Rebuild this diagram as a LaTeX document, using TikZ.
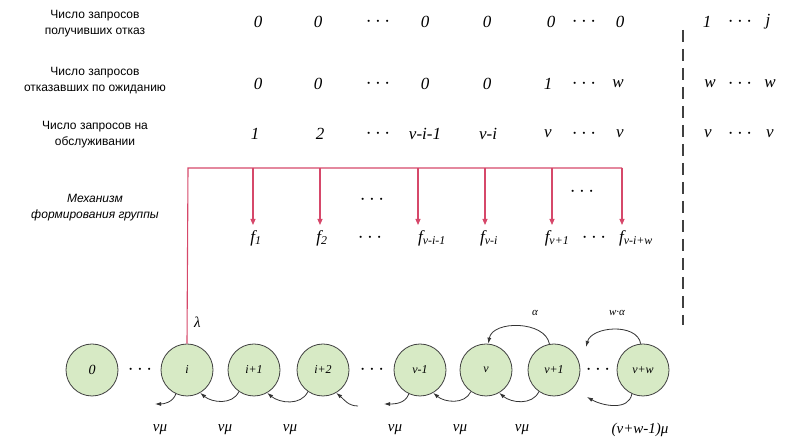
\documentclass[tikz,border=0pt]{standalone}
\usepackage{fontspec}
\setmainfont{Liberation Serif}
\setsansfont{Liberation Sans}
\usetikzlibrary{arrows.meta}
\definecolor{feedred}{HTML}{D6486A}
\definecolor{stategreen}{HTML}{D7EAC5}
\newcommand{\tdots}{{\fontsize{20}{20}\selectfont$\cdots$}}

\begin{document}
\begin{tikzpicture}[x=1pt,y=1pt,
  rowlabel/.style={font=\sffamily\fontsize{12}{16}\selectfont,align=center},
  val/.style={font=\itshape\fontsize{17}{17}\selectfont,inner sep=1pt},
  state/.style={circle,draw=black!75,thick,fill=stategreen,minimum size=52pt,
                inner sep=0pt,font=\itshape\fontsize{12}{12}\selectfont},
  feed/.style={draw=feedred,line width=1.1pt},
  feedarrow/.style={feed,-{Triangle[length=6pt,width=5pt]}},
  rate/.style={-{Latex[length=6pt,width=4pt]},black!80,thick},
  ratelabel/.style={font=\itshape\fontsize{15}{15}\selectfont}
]
\useasboundingbox (0,0) rectangle (792,446);

% row labels
\node[rowlabel] (lrej) at (95,422) {Число запросов\\получивших отказ};
\node[rowlabel] (lwait) at (95,365) {Число запросов\\отказавших по ожиданию};
\node[rowlabel] (lserv) at (95,311) {Число запросов на\\обслуживании};
\node[rowlabel,font=\sffamily\itshape\fontsize{12}{16}\selectfont] (lmech) at (95,238)
  {Механизм\\формирования группы};

% number of rejected requests
\foreach \x/\t [count=\k] in {258/0,318/0,425/0,487/0,551/0,620/0,707/1,768/j}
  \node[val] (rej\k) at (\x,424) {\t};
\foreach \x [count=\k] in {378,584,740}
  \node (rejd\k) at (\x,424) {\tdots};

% number of reneged requests
\foreach \x/\t [count=\k] in {258/0,318/0,425/0,487/0,548/1,618/w,710/w,770/w}
  \node[val] (ren\k) at (\x,362) {\t};
\foreach \x [count=\k] in {378,584,740}
  \node (rend\k) at (\x,362) {\tdots};

% number of requests in service
\foreach \x/\t [count=\k] in {255/1,320/2,425/v-i-1,488/v-i,548/v,620/v,708/v,770/v}
  \node[val] (srv\k) at (\x,312) {\t};
\foreach \x [count=\k] in {378,584,740}
  \node (srvd\k) at (\x,312) {\tdots};

\draw[black!75,line width=1.5pt,dash pattern=on 12pt off 7pt] (683,416) -- (683,121);

% group forming mechanism
\node[val] (f1) at (256,208) {f\textsubscript{1}};
\node[val] (f2) at (322,208) {f\textsubscript{2}};
\node (fd1) at (370,208) {\tdots};
\node[val] (f3) at (432,208) {f\textsubscript{v-i-1}};
\node[val] (f4) at (489,208) {f\textsubscript{v-i}};
\node[val] (f5) at (557,208) {f\textsubscript{v+1}};
\node (fd2) at (594,208) {\tdots};
\node[val] (f6) at (636,208) {f\textsubscript{v-i+w}};
\node (fd3) at (372,246) {\tdots};
\node (fd4) at (582,254) {\tdots};

% states
\node[state,font=\itshape\fontsize{14}{14}\selectfont] (s0) at (92,76) {0};
\node (sd1) at (140,76) {\tdots};
\node[state] (si) at (187,76) {i};
\node[state] (sip1) at (254,76) {i+1};
\node[state] (sip2) at (323,76) {i+2};
\node (sd2) at (372,76) {\tdots};
\node[state] (svm1) at (420,76) {v-1};
\node[state] (sv) at (486,76) {v};
\node[state] (svp1) at (554,76) {v+1};
\node (sd3) at (598,76) {\tdots};
\node[state] (svw) at (643,76) {v+w};

% arrivals feed the group forming mechanism
\coordinate (bus) at (188,278);
\draw[feed] (si.north) -- node[pos=0.12,right=3pt,font=\itshape\fontsize{15}{15}\selectfont,text=black]{λ} (bus) -- (622,278);
\draw[feedarrow] (253,278) -- (253,221);
\draw[feedarrow] (320,278) -- (320,221);
\draw[feedarrow] (418,278) -- (418,221);
\draw[feedarrow] (485,278) -- (485,221);
\draw[feedarrow] (552,278) -- (552,221);
\draw[feedarrow] (622,278) -- (622,221);

% service completions
\coordinate (lfree1) at (155,42);
\coordinate (rfree1) at (358,40);
\coordinate (lfree2) at (384,42);
\coordinate (lfree3) at (587,49);
\draw[rate] (si.245) to[out=250,in=0] (lfree1);
\draw[rate] (sip1.235) to[out=245,in=-40] (si.-60);
\draw[rate] (sip2.235) to[out=245,in=-40] (sip1.-60);
\draw[rate] (rfree1) to[out=180,in=-40] (sip2.-60);
\draw[rate] (svm1.245) to[out=250,in=0] (lfree2);
\draw[rate] (sv.235) to[out=245,in=-40] (svm1.-60);
\draw[rate] (svp1.235) to[out=245,in=-40] (sv.-60);
\draw[rate] (svw.245) to[out=260,in=-30] (lfree3);

% reneging
\coordinate (tfree) at (586,99);
\draw[rate] (svp1.100) to[out=100,in=80] (sv.85);
\draw[rate] (svw.95) to[out=100,in=75] (tfree);
\node[font=\itshape\fontsize{11}{11}\selectfont] (alpha1) at (535,133) {α};
\node[font=\itshape\fontsize{11}{11}\selectfont] (alpha2) at (617,133) {w·α};

% rates
\foreach \x [count=\k] in {160,225,290,395,460,522}
  \node[ratelabel] (mu\k) at (\x,16) {vμ};
\node[ratelabel] (mu7) at (640,16) {(v+w-1)μ};
\end{tikzpicture}
\end{document}
